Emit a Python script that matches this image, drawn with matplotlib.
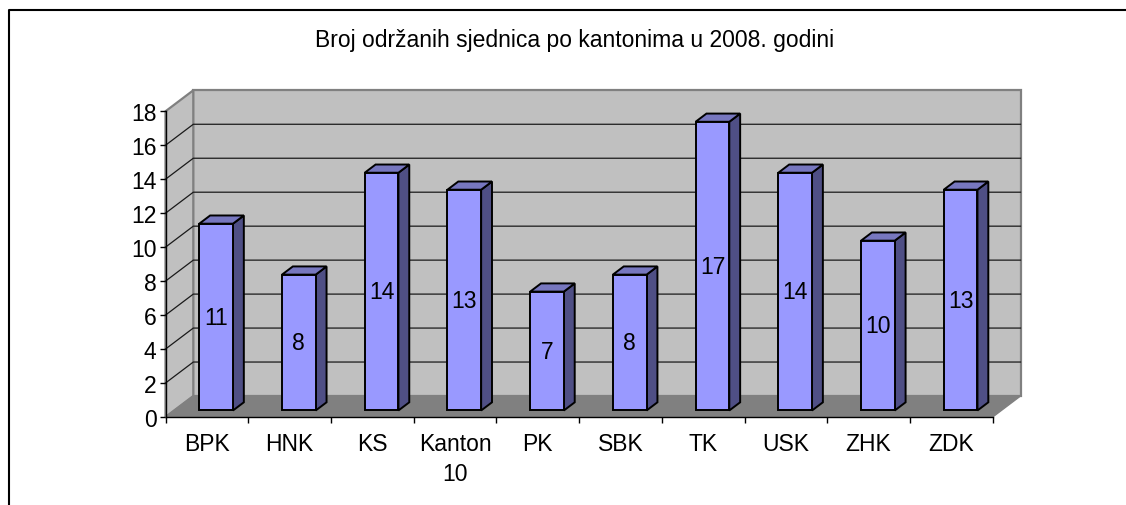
import matplotlib
matplotlib.use("Agg")
import matplotlib.pyplot as plt
from matplotlib.patches import Polygon
from matplotlib.lines import Line2D

plt.rcParams['font.family'] = ['Liberation Sans', 'DejaVu Sans']

title = "Broj održanih sjednica po kantonima u 2008. godini"
categories = ["BPK", "HNK", "KS", "Kanton\n10", "PK", "SBK", "TK", "USK", "ZHK", "ZDK"]
values = [11, 8, 14, 13, 7, 8, 17, 14, 10, 13]
y_ticks = list(range(0, 19, 2))

W, H = 1126, 506
FS = 16.5
X0, X1, Y0, Y18 = 165.5, 992.7, 418.0, 112.3
fig = plt.figure(figsize=(W / 100, H / 100), dpi=100, facecolor="white")
ax = fig.add_axes([X0 / W, 1 - Y0 / H, (X1 - X0) / W, (Y0 - Y18) / H])
n = len(categories)
ax.set_xlim(0, n)
ax.set_ylim(0, 18)
ax.patch.set_visible(False)

# oblique projection: depth d in 0..1 shifts points back
DX = 27.8 / ((X1 - X0) / n)
DY = 21.0 / ((Y0 - Y18) / 18)


def P(x, y, d=0.0):
    return (x + DX * d, y + DY * d)


def poly(pts, fc, ec, lw, z):
    ax.add_patch(Polygon(pts, closed=True, facecolor=fc, edgecolor=ec, linewidth=lw,
                         zorder=z, clip_on=False, joinstyle="miter"))


WALL, FLOOR, EDGE = "#C0C0C0", "#808080", "#808080"
poly([P(0, 0, 1), P(n, 0, 1), P(n, 18, 1), P(0, 18, 1)], WALL, EDGE, 1.6, 1)
poly([P(0, 0), P(0, 0, 1), P(0, 18, 1), P(0, 18)], WALL, EDGE, 1.6, 1)
poly([P(0, 0), P(n, 0), P(n, 0, 1), P(0, 0, 1)], FLOOR, EDGE, 1.0, 2)

for t in y_ticks[1:-1]:
    ax.add_line(Line2D(*zip(P(0, t), P(0, t, 1), P(n, t, 1)), color="#1a1a1a", lw=0.9,
                       zorder=3, clip_on=False))

BAR_D0, BAR_D1 = 0.31, 0.70
BAR_W = 33.7 / ((X1 - X0) / n)
for i, v in enumerate(values):
    xa = i + 0.5 - BAR_W / 2 + 0.008
    xb = xa + BAR_W
    poly([P(xb, 0, BAR_D0), P(xb, 0, BAR_D1), P(xb, v, BAR_D1), P(xb, v, BAR_D0)],
         "#4F4F85", "black", 1.4, 5)
    poly([P(xa, v, BAR_D0), P(xb, v, BAR_D0), P(xb, v, BAR_D1), P(xa, v, BAR_D1)],
         "#7777BF", "black", 1.4, 5)
    poly([P(xa, 0, BAR_D0), P(xb, 0, BAR_D0), P(xb, v, BAR_D0), P(xa, v, BAR_D0)],
         "#9999FF", "black", 1.4, 6)
    cx, cy = P((xa + xb) / 2, v / 2, BAR_D0)
    ax.text(cx, cy, str(v), ha="center", va="center", fontsize=FS, color="black",
            zorder=7, clip_on=False)

for s in ("top", "right"):
    ax.spines[s].set_visible(False)
for s in ("left", "bottom"):
    ax.spines[s].set_linewidth(1.0)
    ax.spines[s].set_color("black")
    ax.spines[s].set_zorder(8)

ax.set_yticks(y_ticks)
ax.tick_params(axis="y", length=4, width=1, pad=2.4, labelsize=FS)
ax.set_xticks(range(n + 1))
ax.set_xticklabels([])
ax.tick_params(axis="x", length=4, width=1)
ax.set_xticks([i + 0.5 for i in range(n)], minor=True)
ax.set_xticklabels(categories, minor=True, fontsize=FS, linespacing=1.36, va="top")
ax.tick_params(axis="x", which="minor", length=0, pad=11)

fig.text(575 / W, 1 - 40.5 / H, title, ha="center", va="center", fontsize=FS, color="black")

# outer chart frame (open at the bottom and right)
fig.add_artist(Line2D([8.5 / W, 8.5 / W, 1.0], [0, 1 - 10.5 / H, 1 - 10.5 / H],
                      color="black", lw=1.5, transform=fig.transFigure))

fig.savefig("out.png", dpi=100, facecolor="white")
